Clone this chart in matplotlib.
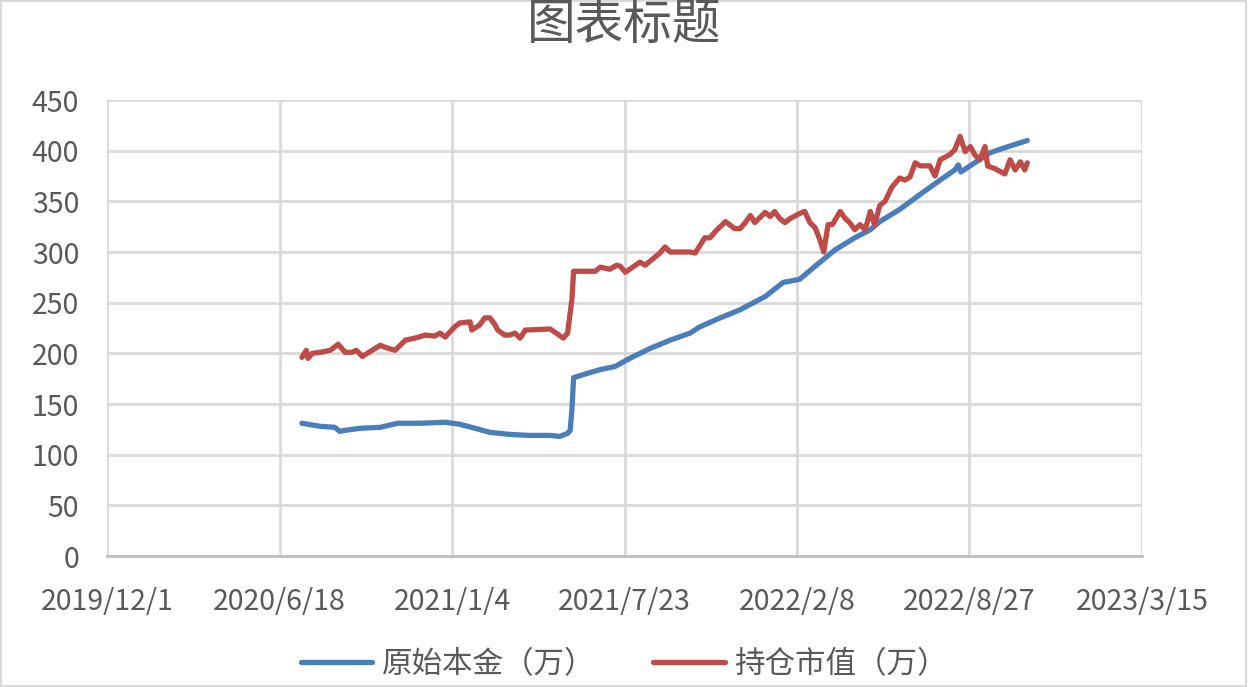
import numpy as np
import pandas as pd
import matplotlib
matplotlib.use("Agg")
import matplotlib.pyplot as plt
from matplotlib.patches import Rectangle

plt.rcParams['font.family'] = ['Noto Sans CJK SC', 'DejaVu Sans']

origin = pd.Timestamp('2019-12-01')

# 原始本金（万）: days since 2019-12-01, value
principal_days = [226, 247, 264, 270, 276, 293, 317, 337, 363, 392, 409, 427, 444, 467,
                  490, 514, 525, 534, 537, 539, 541, 560, 572, 589, 606, 630, 653, 676,
                  687, 711, 734, 763, 784, 803, 821, 844, 867, 885, 896, 919, 943, 966,
                  983, 987, 990, 1006, 1024, 1041, 1067]
principal_vals = [131, 128, 127, 123, 124, 126, 127, 131, 131, 132, 130, 126, 122, 120,
                  119, 119, 118, 121, 124, 144, 176, 181, 184, 187, 195, 205, 213, 220,
                  226, 235, 243, 256, 270, 273, 286, 302, 314, 322, 330, 342, 357, 371,
                  381, 386, 379, 388, 398, 403, 410]

# 持仓市值（万）
market_days = [226, 231, 233, 238, 247, 259, 268, 276, 284, 289, 296, 317, 322, 334, 340,
               346, 357, 369, 380, 386, 392, 403, 409, 421, 423, 432, 438, 444, 450, 453,
               461, 467, 473, 479, 485, 514, 529, 534, 539, 541, 566, 572, 583, 591, 595,
               601, 618, 624, 641, 647, 653, 676, 682, 693, 699, 705, 717, 728, 734, 740,
               746, 751, 757, 763, 769, 774, 780, 786, 792, 803, 809, 815, 821, 827, 831,
               836, 841, 850, 856, 861, 867, 873, 879, 885, 890, 896, 902, 910, 919, 925,
               931, 937, 943, 954, 960, 966, 977, 983, 989, 995, 1001, 1006, 1012, 1018,
               1021, 1030, 1041, 1047, 1053, 1059, 1064, 1067]
market_vals = [196, 203, 195, 200, 201, 203, 209, 201, 201, 203, 197, 208, 206, 203, 208,
               213, 215, 218, 217, 220, 216, 226, 230, 231, 223, 228, 235, 235, 228, 223,
               218, 218, 220, 215, 223, 224, 215, 220, 253, 281, 281, 285, 283, 287, 286,
               280, 290, 287, 299, 305, 300, 300, 299, 314, 314, 320, 330, 323, 323, 329,
               336, 329, 334, 339, 335, 340, 333, 329, 333, 338, 340, 329, 324, 311, 300,
               327, 327, 340, 333, 329, 322, 327, 322, 340, 327, 346, 350, 364, 373, 371,
               374, 388, 385, 385, 375, 391, 396, 401, 414, 399, 404, 396, 391, 404, 385,
               382, 377, 391, 381, 389, 381, 388]

series_labels = ['原始本金（万）', '持仓市值（万）']
y_ticks = [0, 50, 100, 150, 200, 250, 300, 350, 400, 450]
x_tick_days = [0, 200, 400, 600, 800, 1000, 1200]

principal_dates = origin + pd.to_timedelta(principal_days, unit='D')
market_dates = origin + pd.to_timedelta(market_days, unit='D')
tick_dates = origin + pd.to_timedelta(x_tick_days, unit='D')

text_color = '#595959'
grid_color = '#d9d9d9'

fig = plt.figure(figsize=(12.48, 6.87), dpi=100)
fig.patches.append(Rectangle((0.0008, 0.0015), 0.9976, 0.997, transform=fig.transFigure,
                             fill=False, edgecolor='#d9d9d9', linewidth=1.5))
ax = fig.add_axes([107 / 1248, 131 / 687, 1035 / 1248, 456 / 687])

ax.plot(principal_dates, principal_vals, color='#4a7ebb', linewidth=3.8,
        solid_capstyle='round', solid_joinstyle='round', label=series_labels[0])
ax.plot(market_dates, market_vals, color='#be4b48', linewidth=3.8,
        solid_capstyle='round', solid_joinstyle='round', label=series_labels[1])

ax.set_xlim(tick_dates[0], tick_dates[-1])
ax.set_ylim(0, 450)
ax.set_yticks(y_ticks)
ax.set_xticks(tick_dates)
ax.set_xticklabels([f'{d.year}/{d.month}/{d.day}' for d in tick_dates])
ax.grid(True, color=grid_color, linewidth=2)
ax.set_axisbelow(True)
for side in ['top', 'right', 'left']:
    ax.spines[side].set_visible(False)
ax.spines['bottom'].set_color('#bfbfbf')
ax.spines['bottom'].set_linewidth(2)
ax.tick_params(length=0, labelsize=20.5, labelcolor=text_color)
ax.tick_params(axis='x', pad=22)
ax.tick_params(axis='y', pad=20)

fig.suptitle('图表标题', x=0.5, y=1.0, fontsize=35, color=text_color)
fig.legend(loc='lower center', bbox_to_anchor=(0.5, -0.03), ncol=2, frameon=False,
           fontsize=22, labelcolor=text_color, handlelength=2.35, columnspacing=1.9,
           handletextpad=0.3)

fig.savefig('out.png', dpi=100)
